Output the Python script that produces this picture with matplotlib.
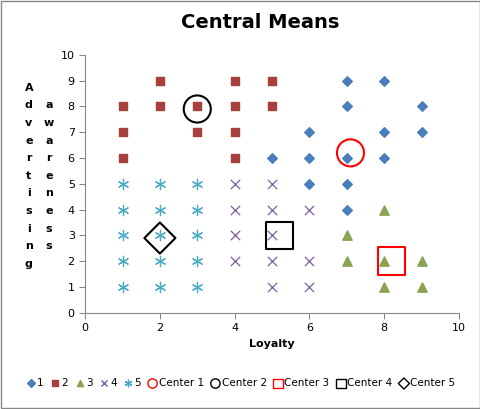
import matplotlib
matplotlib.use("Agg")
import matplotlib.pyplot as plt
from matplotlib.patches import Rectangle

s1x=[7,8,7,9,6,8,9,5,6,7,8,6,7,7]; s1y=[9,9,8,8,7,7,7,6,6,6,6,5,5,4]
s2x=[2,4,5,1,2,3,4,5,1,3,4,1,4]; s2y=[9,9,9,8,8,8,8,8,7,7,7,6,6]
s3x=[8,7,7,8,9,8,9]; s3y=[4,3,2,2,2,1,1]
s4x=[4,5,4,5,6,4,5,4,5,6,5,6]; s4y=[5,5,4,4,4,3,3,2,2,2,1,1]
s5x=[1,2,3,1,2,3,1,2,3,1,2,3,1,2,3]; s5y=[5,5,5,4,4,4,3,3,3,2,2,2,1,1,1]
cx=[7.1,3.0,8.2,5.2,2.0]; cy=[6.2,7.9,2.0,3.0,2.9]

fig=plt.figure(figsize=(4.81,4.09),dpi=100)
fig.patches.append(Rectangle((0.002,0.002),0.996,0.996,transform=fig.transFigure,fill=False,ec='#888888',lw=1))
ax=fig.add_axes([0.177,0.235,0.777,0.631])
ax.scatter(s1x,s1y,marker='D',s=24,c='#4a7ebb',label='1',zorder=3)
ax.scatter(s2x,s2y,marker='s',s=40,c='#a5403d',label='2',zorder=3)
ax.scatter(s3x,s3y,marker='^',s=45,c='#8aa352',label='3',zorder=3)
ax.scatter(s4x,s4y,marker='x',s=45,c='#7d60a0',linewidths=0.9,label='4',zorder=3)
ax.scatter(s5x,s5y,marker=(6,2,0),s=55,c='#4bacc6',linewidths=0.9,label='5',zorder=3)
ax.scatter(cx[0],cy[0],marker='o',s=380,facecolors='none',edgecolors='red',linewidths=1.5,label='Center 1',zorder=4)
ax.scatter(cx[1],cy[1],marker='o',s=380,facecolors='none',edgecolors='black',linewidths=1.5,label='Center 2',zorder=4)
ax.scatter(cx[2],cy[2],marker='s',s=400,facecolors='none',edgecolors='red',linewidths=1.5,label='Center 3',zorder=4)
ax.scatter(cx[3],cy[3],marker='s',s=400,facecolors='none',edgecolors='black',linewidths=1.5,label='Center 4',zorder=4)
ax.scatter(cx[4],cy[4],marker='D',s=250,facecolors='none',edgecolors='black',linewidths=1.5,label='Center 5',zorder=4)
ax.set_xlim(0,10); ax.set_ylim(0,10)
ax.set_xticks(range(0,11,2)); ax.set_yticks(range(0,11))
for s in ['top','right']: ax.spines[s].set_visible(False)
for s in ['left','bottom']: ax.spines[s].set_color('#888888')
ax.tick_params(labelsize=8,color='#888888',direction='out',length=4)
ax.set_xlabel('Loyalty',fontsize=8,fontweight='bold')
fig.text(0.06,0.57,'\n'.join('Advertising'),fontsize=8,fontweight='bold',ha='center',va='center',linespacing=1.95)
fig.text(0.102,0.57,'\n'.join('awareness'),fontsize=8,fontweight='bold',ha='center',va='center',linespacing=1.95)
fig.text(0.54,0.945,'Central Means',fontsize=14,fontweight='bold',ha='center',va='center')
leg=fig.legend(loc='center',bbox_to_anchor=(0.5,0.063),ncol=10,fontsize=7.5,frameon=False,
           handletextpad=0.1,columnspacing=0.6,handlelength=1)
for h,sz in zip(leg.legend_handles,[16,18,20,20,22,45,45,50,50,32]):
    h.set_sizes([sz])
    h.set_linewidths([1.0])
fig.savefig('out.png',dpi=100)
